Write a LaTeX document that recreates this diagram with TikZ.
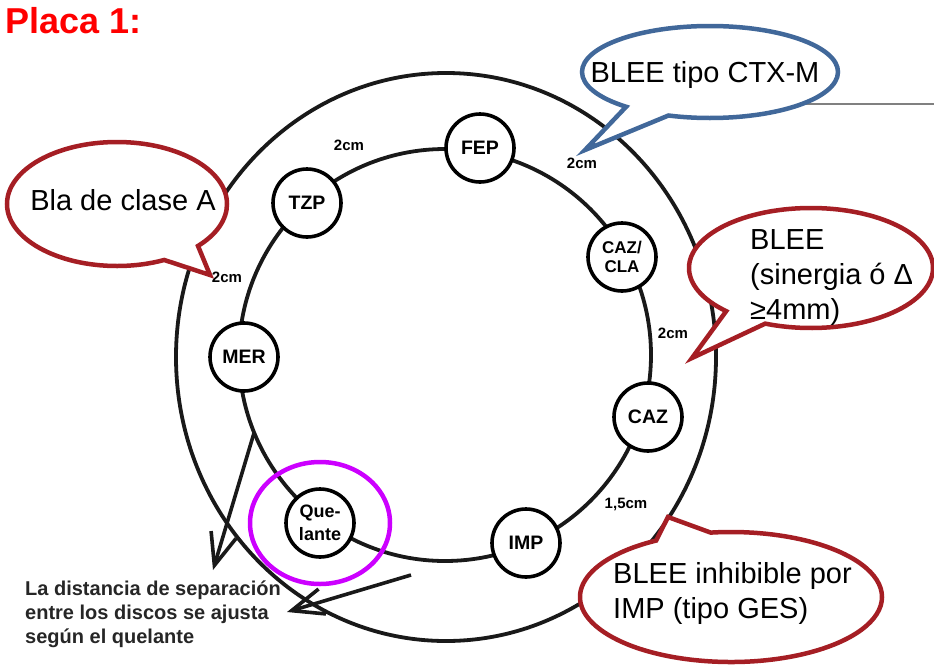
\documentclass[tikz,border=0pt]{standalone}
\usepackage{fontspec}
\setmainfont{Liberation Sans}
\usetikzlibrary{arrows.meta,shapes.callouts,backgrounds}
\definecolor{bubblered}{RGB}{165,30,36}
\definecolor{bubbleblue}{RGB}{65,104,154}
\definecolor{quelviolet}{RGB}{204,0,255}
\tikzset{
  ring/.style={line width=3.8pt,black!90},
  disc/.style={circle,draw,line width=3.6pt,fill=white,minimum size=68pt,inner sep=1pt,align=center,font=\bfseries\fontsize{19.5}{21}\selectfont},
  gaplabel/.style={font=\bfseries\fontsize{15}{17}\selectfont,inner sep=0pt},
  bubble/.style={ellipse callout,draw=bubblered,line width=4.5pt,fill=white,inner sep=0pt,callout pointer arc=22},
  bubbletext/.style={inner sep=0pt,align=left,font=\fontsize{29}{35}\selectfont},
  pointer/.style={line width=3.6pt,black!90,-{Straight Barb[length=32pt,width=26pt]}}
}
\begin{document}
\begin{tikzpicture}[x=1pt,y=-1pt]
\useasboundingbox (0,0) rectangle (934,664);

\node[anchor=base west,inner sep=0pt,red,font=\bfseries\fontsize{36}{40}\selectfont] (title) at (5,33) {Placa 1:};

\draw[ring] (446,357) ellipse [x radius=270,y radius=284];

\node[disc] (fep) at (480,148) {FEP};
\node[disc] (tzp) at (307,203) {TZP};
\node[disc,font=\bfseries\fontsize{17}{19}\selectfont] (cazcla) at (622,257) {CAZ/\\CLA};
\node[disc] (mer) at (244,357) {MER};
\node[disc] (caz) at (648,417) {CAZ};
\node[disc,font=\bfseries\fontsize{18}{23}\selectfont] (quel) at (320,523) {Que-\\lante};
\node[disc] (imp) at (526,543) {IMP};

\begin{scope}[on background layer]
\draw[ring] (445,355) circle [radius=206];
\coordinate (grayend) at (934,104);
\draw[line width=2pt,black!50] (grayend) -- (710,104);
\end{scope}

\node[gaplabel] (gap1) at (349,145) {2cm};
\node[gaplabel] (gap2) at (582,163) {2cm};
\node[gaplabel] (gap3) at (227,277) {2cm};
\node[gaplabel] (gap4) at (673,333) {2cm};
\node[gaplabel] (gap5) at (626,504) {1,5cm};

\draw[quelviolet,line width=4.5pt] (quel.center) ellipse [x radius=70,y radius=61];

\coordinate (arrAstart) at (254,433);
\coordinate (arrAend) at (213,570);
\coordinate (arrBstart) at (411,575);
\coordinate (arrBend) at (287,612);
\draw[pointer] (arrAstart) -- (arrAend);
\draw[pointer] (arrBstart) -- (arrBend);

\node[anchor=north west,inner sep=0pt,align=left,black!85,font=\bfseries\fontsize{20}{24}\selectfont] (note) at (25,581) {La distancia de separación\\entre los discos se ajusta\\según el quelante};

\node[bubble,draw=bubbleblue,minimum width=256pt,minimum height=92pt,callout absolute pointer={(585,150)}] (ctx) at (710,72) {};
\node[bubbletext] (ctxtext) at (705,75) {BLEE tipo CTX-M};

\node[bubble,minimum width=220pt,minimum height=124pt,callout absolute pointer={(210,275)}] (clasea) at (117,204) {};
\node[bubbletext] (claseatext) at (123,200) {Bla de clase A};

\node[bubble,minimum width=244pt,minimum height=120pt,callout absolute pointer={(692,358)}] (sinergia) at (811,268) {};
\node[bubbletext,anchor=west] (sinergiatext) at (750,278) {BLEE\\(sinergia ó Δ\\≥4mm)};

\node[bubble,minimum width=302pt,minimum height=130pt,callout absolute pointer={(668,517)}] (ges) at (731,597) {};
\node[bubbletext,anchor=west] (gestext) at (613,593) {BLEE inhibible por\\IMP (tipo GES)};
\end{tikzpicture}
\end{document}
